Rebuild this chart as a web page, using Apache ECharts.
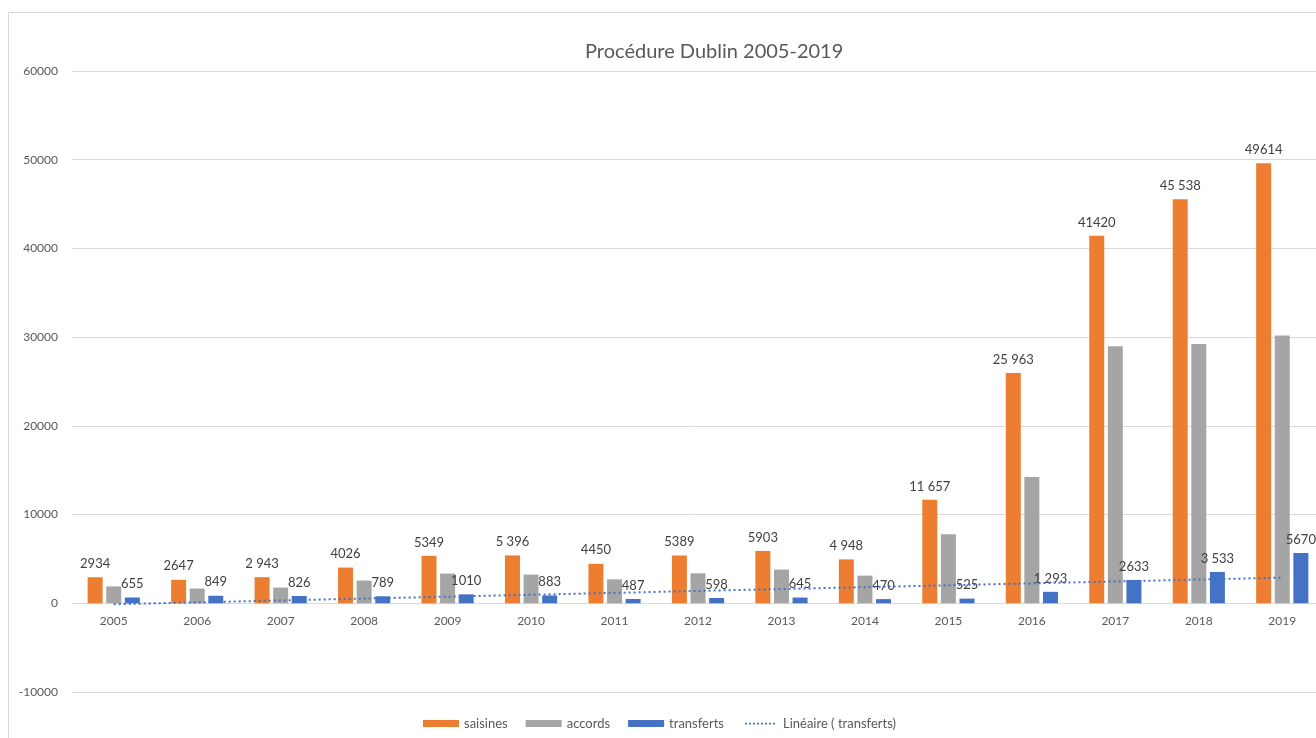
<!DOCTYPE html>
<html>
<head>
<meta charset="utf-8">
<script src="https://cdn.jsdelivr.net/npm/echarts@6/dist/echarts.min.js"></script>
<style>
html,body{margin:0;padding:0;background:#fff;}
#chart{width:1316px;height:738px;}
</style>
</head>
<body>
<div id="chart"></div>
<script>
const years = ["2005","2006","2007","2008","2009","2010","2011","2012","2013","2014","2015","2016","2017","2018","2019"];
const saisines = [2934,2647,2943,4026,5349,5396,4450,5389,5903,4948,11657,25963,41420,45538,49614];
const saisinesLabels = ["2934","2647","2 943","4026","5349","5 396","4450","5389","5903","4 948","11 657","25 963","41420","45 538","49614"];
const accords = [1900,1660,1770,2560,3350,3240,2700,3380,3800,3120,7780,14240,28970,29230,30180];
const transferts = [655,849,826,789,1010,883,487,598,645,470,525,1293,2633,3533,5670];
const transfertsLabels = ["655","849","826","789","1010","883","487","598","645","470","525","1 293","2633","3 533","5670"];
// trend line endpoints (first and last year)
const trendEnds = [-110, 2890];
const yTicks = {min:-10000, max:60000, interval:10000};

const trend = years.map((y,i)=> i===0 ? trendEnds[0] : (i===years.length-1 ? trendEnds[1] : null));

// dotted legend icon (36x7 box, dots in the middle)
let dotPath = 'path://M0,0h0.01v0.01h-0.01z M36,7h-0.01v-0.01h0.01z';
for (let i = 0; i < 8; i++) { dotPath += ' M' + (3 + i*4) + ',2.8h2v1.6h-2z'; }

const FONT = 'Lato, "Liberation Sans", sans-serif';
const chart = echarts.init(document.getElementById('chart'), null, {renderer:'canvas'});
const labelStyle = (arr)=>({
  show:true, position:'top', distance:7, color:'#404040', fontSize:13, fontFamily:FONT,
  formatter:(p)=>arr[p.dataIndex]
});
chart.setOption({
  animation:false,
  backgroundColor:'#fff',
  graphic:[{type:'rect', shape:{x:8.5,y:12.5,width:1400,height:800}, style:{fill:'none', stroke:'#d9d9d9', lineWidth:1}, silent:true, z:-10}],
  title:{text:'Procédure Dublin 2005-2019', left:580, top:37,
    textStyle:{fontFamily:FONT, fontSize:20, fontWeight:'normal', color:'#595959'}},
  grid:{left:72, width:1252, top:71, bottom:46, containLabel:false, outerBoundsMode:'none'},
  legend:{
    left:418, top:712, itemWidth:36, itemHeight:7, itemGap:18,
    textStyle:{fontFamily:FONT, fontSize:13, color:'#595959'},
    data:[
      {name:'saisines', icon:'rect'},
      {name:'accords', icon:'rect'},
      {name:'transferts', icon:'rect'},
      {name:'Linéaire ( transferts)', icon:dotPath, itemStyle:{color:'#4472C4'}}
    ]
  },
  xAxis:{type:'category', data:years,
    axisLine:{onZero:false, lineStyle:{color:'#d9d9d9'}}, axisTick:{show:false},
    axisLabel:{color:'#595959', fontSize:12, fontFamily:FONT, margin:-77}},
  yAxis:{type:'value', min:yTicks.min, max:yTicks.max, interval:yTicks.interval,
    axisLine:{show:false}, axisTick:{show:false},
    splitLine:{lineStyle:{color:'#d9d9d9', width:1}},
    axisLabel:{color:'#595959', fontSize:12, fontFamily:FONT, margin:14, formatter:(v)=>String(v)}},
  series:[
    {name:'saisines', type:'bar', data:saisines, barWidth:15, barGap:'24%',
      itemStyle:{color:'#ED7D31'}, label:labelStyle(saisinesLabels)},
    {name:'accords', type:'bar', data:accords, barWidth:15, barGap:'24%',
      itemStyle:{color:'#A5A5A5'}},
    {name:'transferts', type:'bar', data:transferts, barWidth:15, barGap:'24%',
      itemStyle:{color:'#4472C4'}, label:labelStyle(transfertsLabels)},
    {name:'Linéaire ( transferts)', type:'line', data:trend, connectNulls:true,
      symbol:'none', showSymbol:false, z:5,
      lineStyle:{color:'#4472C4', width:2, type:[2,3]},
      itemStyle:{color:'#4472C4'}}
  ]
});
</script>
</body>
</html>
